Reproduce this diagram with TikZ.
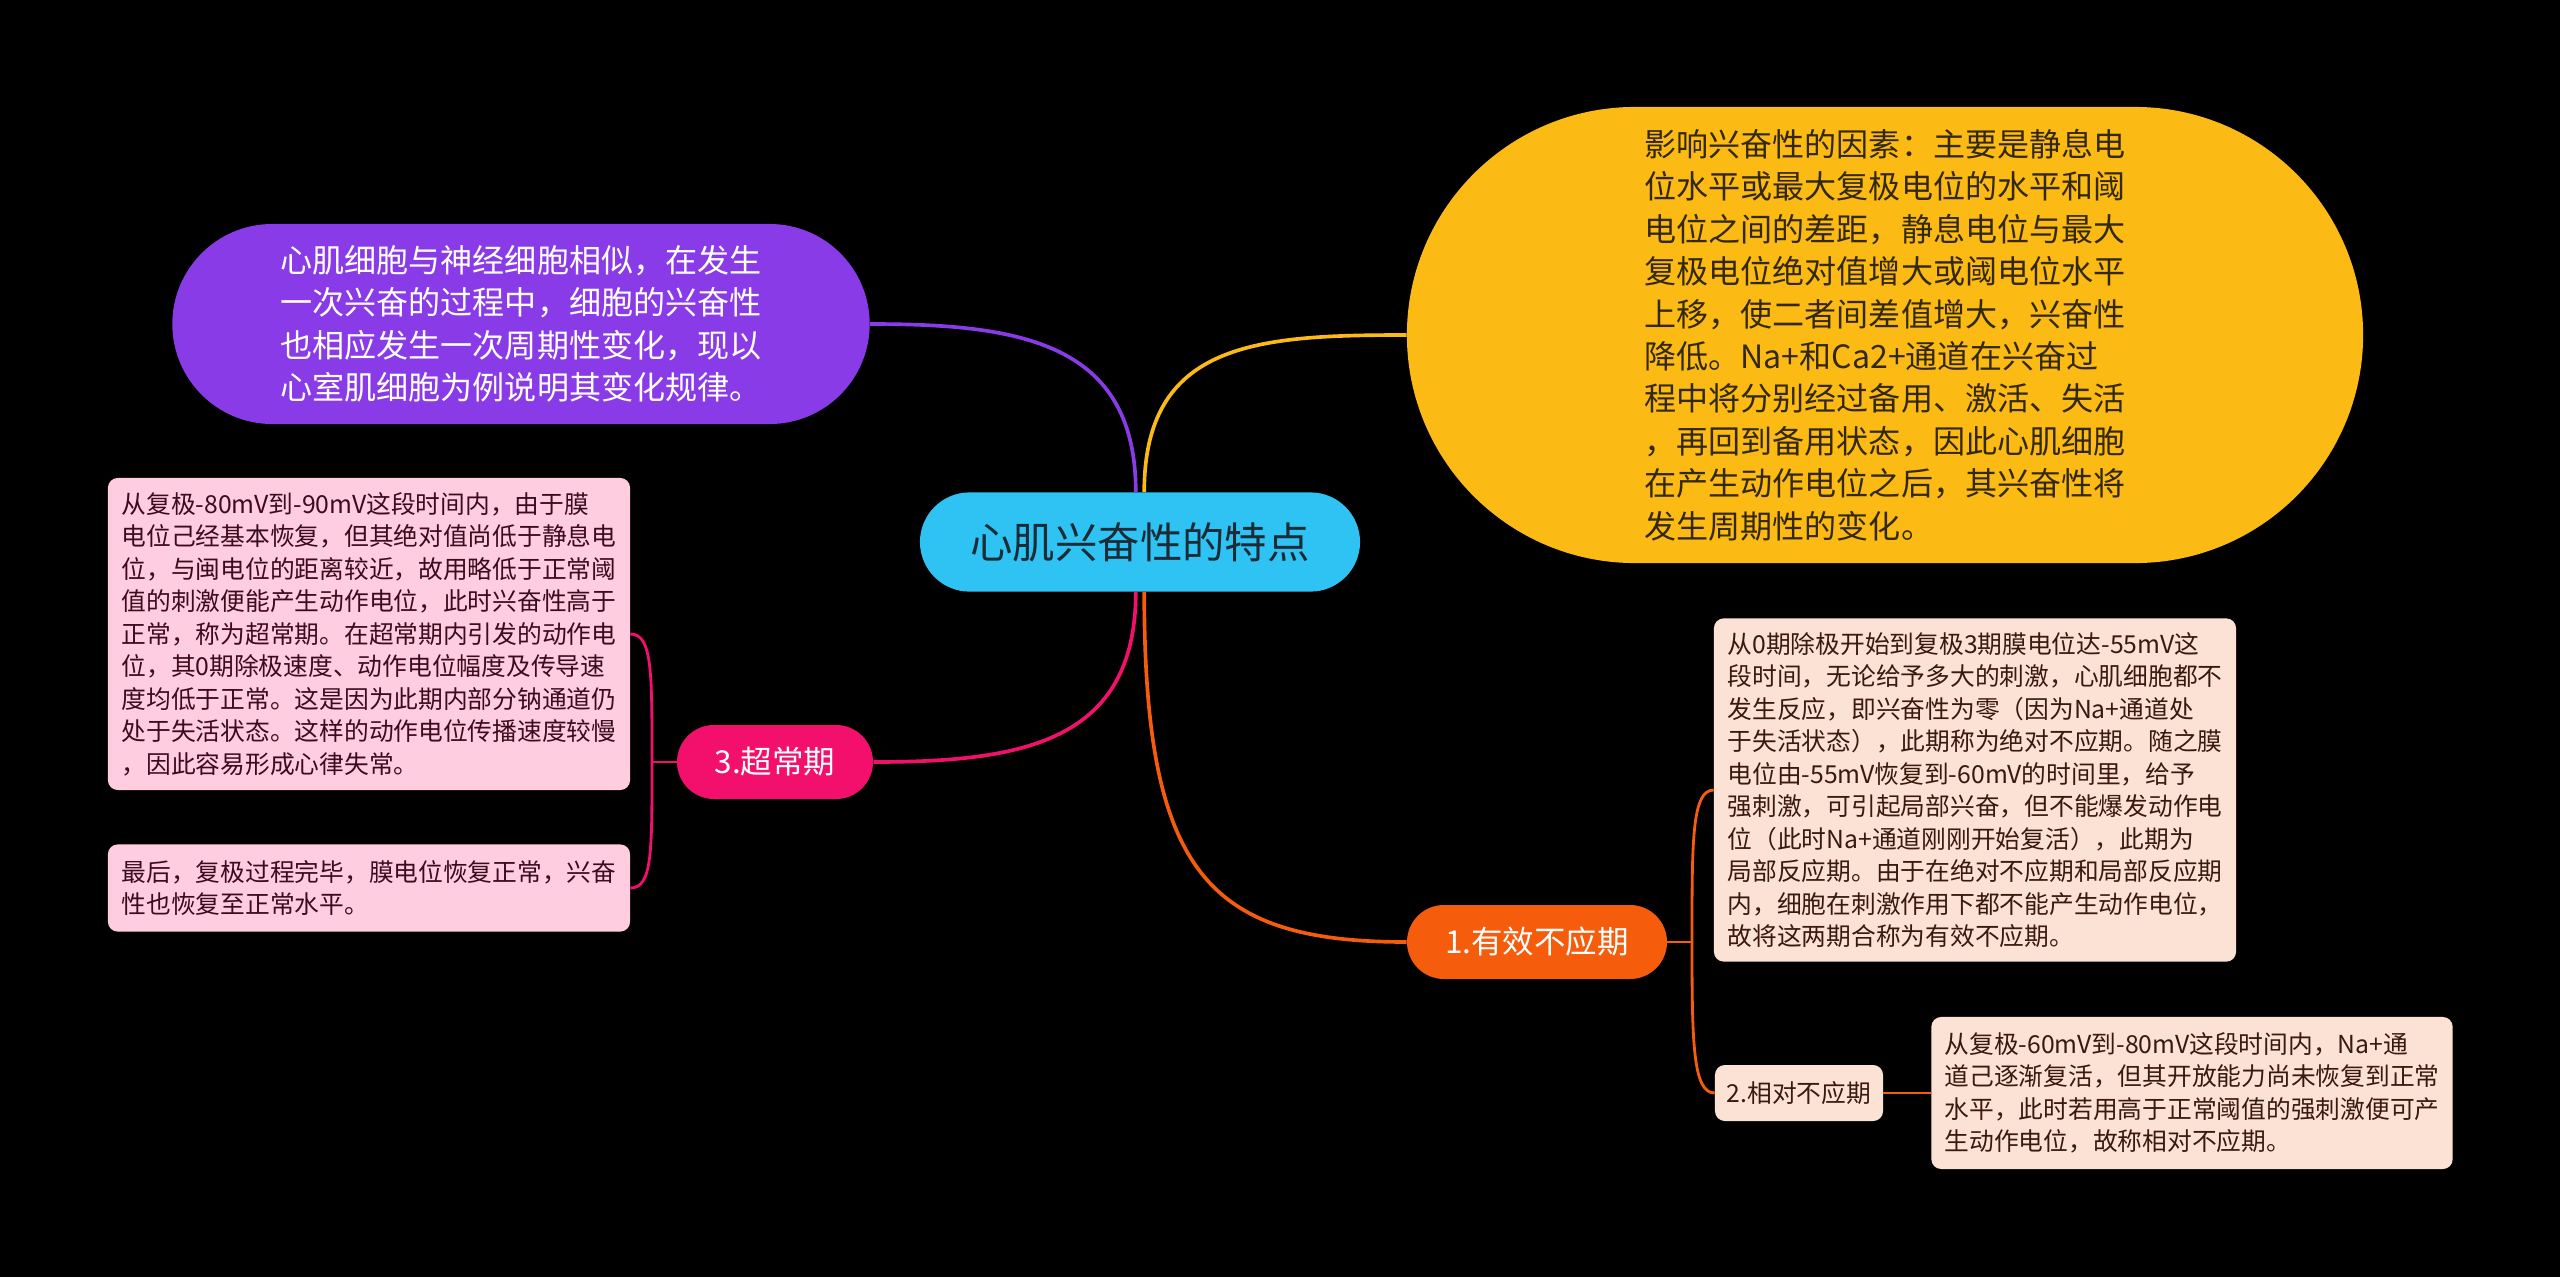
\documentclass[tikz,border=0pt]{standalone}
\usepackage{fontspec}
\setmainfont{Noto Sans CJK SC}
\usetikzlibrary{shapes.misc}

\definecolor{rootblue}{HTML}{2EC3F2}
\definecolor{roottext}{HTML}{1C2B36}
\definecolor{introviolet}{HTML}{8A3BE8}
\definecolor{factoryellow}{HTML}{FCBA14}
\definecolor{factortext}{HTML}{33290A}
\definecolor{superpink}{HTML}{F2106C}
\definecolor{superlight}{HTML}{FFCCE0}
\definecolor{supertext}{HTML}{3A0C1E}
\definecolor{refrorange}{HTML}{F55C0C}
\definecolor{refrlight}{HTML}{FCE2D4}
\definecolor{refrtext}{HTML}{3A1A0C}

\tikzset{
  pill/.style={rounded rectangle, inner sep=0pt, align=left},
  note/.style={rectangle, rounded corners=7pt, inner sep=0pt, align=left,
    font=\fontsize{17.6}{23.1}\selectfont},
  bigtext/.style={font=\fontsize{22.8}{30.2}\selectfont},
  branch/.style={line width=2.6pt},
  brace/.style={line width=2pt}
}

\begin{document}
\begin{tikzpicture}[x=0.025cm, y=-0.025cm]
  \useasboundingbox (0,0) rectangle (2560,1277);
  \fill[black] (0,0) rectangle (2560,1277);

  % centre and main branches
  \node[pill, fill=rootblue, text=roottext, minimum width=11cm, minimum height=2.48cm,
    font=\fontsize{30.2}{36}\selectfont] (root) at (1140,542) {心肌兴奋性的特点};
  \node[pill, bigtext, fill=introviolet, text=white, minimum width=17.43cm, minimum height=5cm]
    (intro) at (521,324) {心肌细胞与神经细胞相似，在发生\\一次兴奋的过程中，细胞的兴奋性\\也相应发生一次周期性变化，现以\\心室肌细胞为例说明其变化规律。};
  \node[pill, bigtext, fill=factoryellow, text=factortext, minimum width=23.9cm, minimum height=11.4cm]
    (factor) at (1885,335) {影响兴奋性的因素：主要是静息电\\位水平或最大复极电位的水平和阈\\电位之间的差距，静息电位与最大\\复极电位绝对值增大或阈电位水平\\上移，使二者间差值增大，兴奋性\\降低。Na+和Ca2+通道在兴奋过\\程中将分别经过备用、激活、失活\\，再回到备用状态，因此心肌细胞\\在产生动作电位之后，其兴奋性将\\发生周期性的变化。};
  \node[pill, fill=superpink, text=white, minimum width=4.9cm, minimum height=1.85cm,
    font=\fontsize{22.4}{28}\selectfont] (super) at (775,762) {3.超常期};
  \node[pill, fill=refrorange, text=white, minimum width=6.5cm, minimum height=1.85cm,
    font=\fontsize{22.4}{28}\selectfont] (effect) at (1537,942) {1.有效不应期};

  % 3. super-normal period
  \node[note, fill=superlight, text=supertext, minimum width=13.05cm, minimum height=7.8cm]
    (supA) at (369,634) {从复极-80mV到-90mV这段时间内，由于膜\\电位己经基本恢复，但其绝对值尚低于静息电\\位，与闽电位的距离较近，故用略低于正常阈\\值的刺激便能产生动作电位，此时兴奋性高于\\正常，称为超常期。在超常期内引发的动作电\\位，其0期除极速度、动作电位幅度及传导速\\度均低于正常。这是因为此期内部分钠通道仍\\处于失活状态。这样的动作电位传播速度较慢\\，因此容易形成心律失常。};
  \node[note, fill=superlight, text=supertext, minimum width=13.05cm, minimum height=2.18cm]
    (supB) at (369,888) {最后，复极过程完毕，膜电位恢复正常，兴奋\\性也恢复至正常水平。};

  % 1. effective refractory period
  \node[note, fill=refrlight, text=refrtext, minimum width=13.05cm, minimum height=8.58cm]
    (effA) at (1975,790) {从0期除极开始到复极3期膜电位达-55mV这\\段时间，无论给予多大的刺激，心肌细胞都不\\发生反应，即兴奋性为零（因为Na+通道处\\于失活状态），此期称为绝对不应期。随之膜\\电位由-55mV恢复到-60mV的时间里，给予\\强刺激，可引起局部兴奋，但不能爆发动作电\\位（此时Na+通道刚刚开始复活），此期为\\局部反应期。由于在绝对不应期和局部反应期\\内，细胞在刺激作用下都不能产生动作电位，\\故将这两期合称为有效不应期。};
  \node[note, fill=refrlight, text=refrtext, minimum width=4.2cm, minimum height=1.4cm]
    (rel) at (1799,1093) {2.相对不应期};
  \node[note, fill=refrlight, text=refrtext, minimum width=13.03cm, minimum height=3.8cm]
    (relA) at (2192,1093) {从复极-60mV到-80mV这段时间内，Na+通\\道己逐渐复活，但其开放能力尚未恢复到正常\\水平，此时若用高于正常阈值的强刺激便可产\\生动作电位，故称相对不应期。};

  \draw[branch, introviolet] ([xshift=-3pt]root.north) .. controls +(0,-150) and +(150,0) .. (intro.east);
  \draw[branch, factoryellow] ([xshift=3pt]root.north) .. controls +(0,-150) and +(-150,0) .. (factor.west);
  \draw[branch, superpink] ([xshift=-3pt]root.south) .. controls +(0,150) and +(150,0) .. (super.east);
  \draw[branch, refrorange] ([xshift=3pt]root.south) .. controls +(0,280) and +(-200,0) .. (effect.west);

  \coordinate (superjoin) at (652,762);
  \draw[brace, superpink] (super.west) -- (superjoin);
  \draw[brace, superpink] (supA.east) .. controls +(22,0) and +(0,-90) .. (superjoin)
    .. controls +(0,90) and +(22,0) .. (supB.east);

  \coordinate (effectjoin) at (1692,942);
  \draw[brace, refrorange] (effect.east) -- (effectjoin);
  \draw[brace, refrorange] (effA.west) .. controls +(-22,0) and +(0,-100) .. (effectjoin)
    .. controls +(0,100) and +(-22,0) .. (rel.west);
  \draw[brace, refrorange] (rel.east) -- (relA.west);
\end{tikzpicture}
\end{document}
